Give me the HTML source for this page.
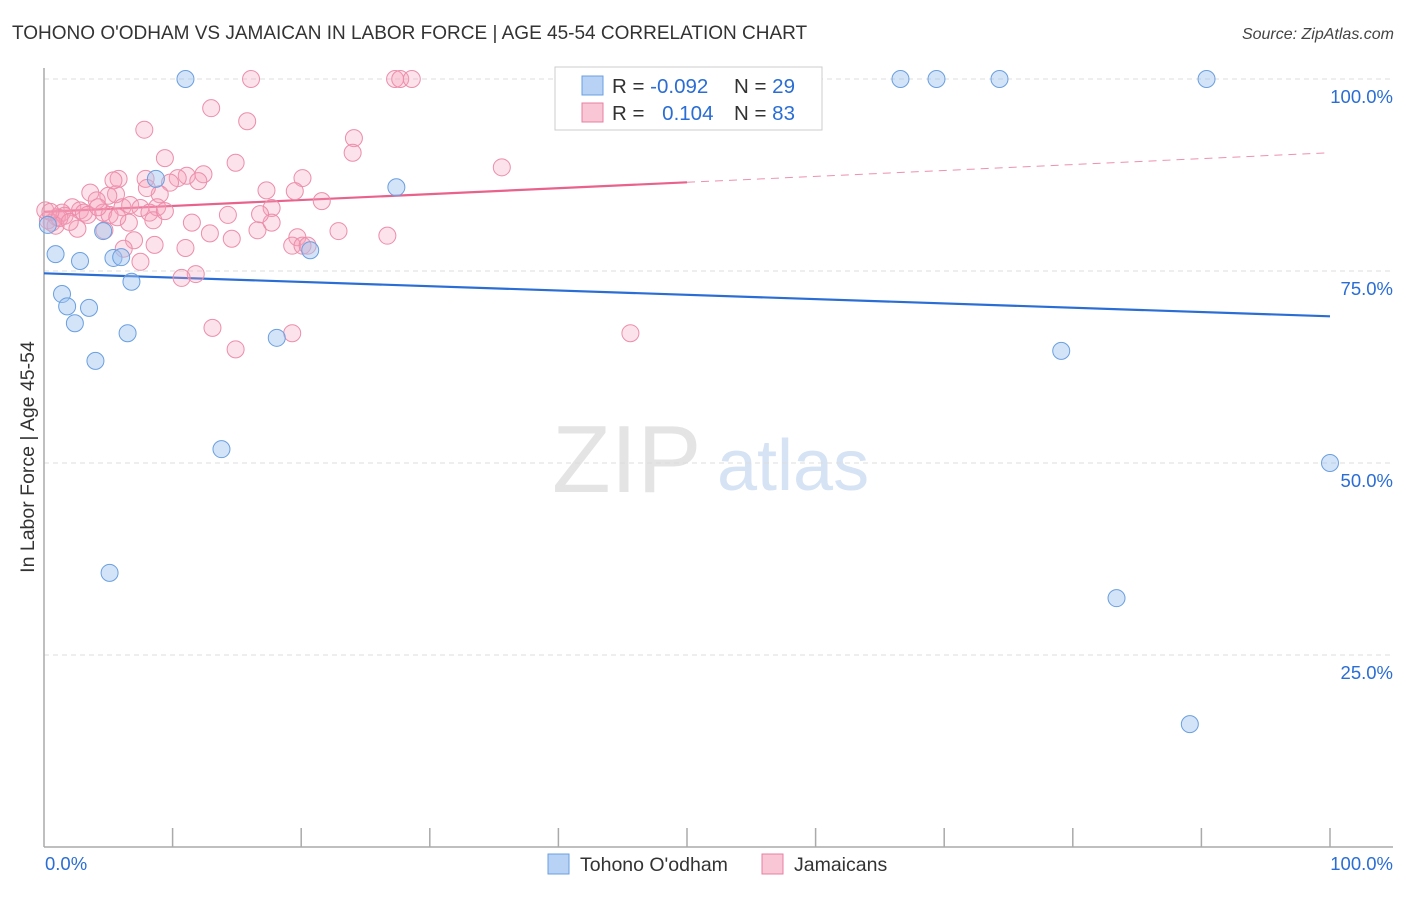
<!DOCTYPE html>
<html><head><meta charset="utf-8">
<style>
body{margin:0;background:#fff;font-family:"Liberation Sans",sans-serif;}
svg text{font-family:"Liberation Sans",sans-serif;}
</style></head>
<body>
<svg id="chart" width="1406" height="892" xmlns="http://www.w3.org/2000/svg">
<text x="12" y="39" font-size="19" fill="#333">TOHONO O'ODHAM VS JAMAICAN IN LABOR FORCE | AGE 45-54 CORRELATION CHART</text>
<text x="1394" y="39" font-size="16" fill="#444" font-style="italic" text-anchor="end">Source: ZipAtlas.com</text>
<g>
<text x="552" y="492" font-size="96" fill="#e4e4e4" font-family="Liberation Serif, serif">ZIP</text>
<text x="717" y="490" font-size="72" fill="#d6e3f4">atlas</text>
</g>
<g id="grid"></g>
<g id="axes"></g>
<g id="trend"></g>
<g id="points"></g>
<text transform="translate(34,457) rotate(-90)" font-size="19.5" fill="#333" text-anchor="middle">In Labor Force | Age 45-54</text>
<g>
<rect x="555" y="67" width="267" height="63" fill="#fff" stroke="#ccc"/>
<rect x="582" y="76" width="21" height="19" fill="#b7d2f5" stroke="#6a9fe0"/>
<rect x="582" y="103" width="21" height="19" fill="#f9c6d5" stroke="#e87fa0"/>
<text x="612" y="93" font-size="20.5" fill="#333">R = <tspan fill="#2a6dd4">-0.092</tspan></text>
<text x="734" y="93" font-size="20.5" fill="#333">N = <tspan fill="#2a6dd4">29</tspan></text>
<text x="612" y="120" font-size="20.5" fill="#333">R = <tspan fill="#2a6dd4" dx="12">0.104</tspan></text>
<text x="734" y="120" font-size="20.5" fill="#333">N = <tspan fill="#2a6dd4">83</tspan></text>
</g>
<g>
<rect x="548" y="854" width="21" height="20" fill="#b7d2f5" stroke="#6a9fe0"/>
<text x="580" y="871" font-size="19.5" fill="#333">Tohono O'odham</text>
<rect x="762" y="854" width="21" height="20" fill="#f9c6d5" stroke="#e87fa0"/>
<text x="794" y="871" font-size="19.5" fill="#333">Jamaicans</text>
</g>
</svg>
<script>
const yTicks=[25,50,75,100];
const yTickLabels=["25.0%","50.0%","75.0%","100.0%"];
const xTickCount=10;
const blueX=[11.0,47.7,66.6,69.4,74.3,90.4,27.4,8.7,0.9,2.8,4.6,5.4,6.0,6.8,1.4,1.8,3.5,2.4,6.5,4.0,18.1,20.7,13.8,5.1,79.1,100,83.4,89.1,0.3];
const blueY=[100,100,100,100,100,100,85.9,87.0,77.2,76.3,80.2,76.7,76.8,73.6,72.0,70.4,70.2,68.2,66.9,63.3,66.3,77.7,51.8,35.7,64.6,50.0,32.4,16.0,81.0];
const pinkX=[16.1,27.3,27.7,28.6,13.0,15.8,7.8,24.1,24.0,9.4,14.9,35.6,12.4,11.1,10.4,12.0,9.8,20.1,5.8,7.9,17.3,19.5,9.0,3.6,5.6,5.0,4.1,21.6,2.2,6.1,8.8,2.8,1.4,6.7,7.5,8.2,17.7,14.3,1.0,1.6,3.1,4.6,5.1,8.5,11.5,6.6,0.3,0.6,0.9,2.6,4.7,12.9,16.6,22.9,26.7,14.6,7.0,6.2,8.6,11.0,19.7,17.7,19.3,20.1,20.5,7.5,11.8,10.7,13.1,19.3,45.6,14.9,0.1,1.2,2.0,3.4,4.2,5.4,16.8,9.4,0.5,5.7,8.0];
const pinkY=[100,100,100,100,96.2,94.5,93.4,92.3,90.4,89.7,89.1,88.5,87.6,87.4,87.1,86.7,86.5,87.1,87.0,87.0,85.5,85.4,85.0,85.2,85.0,84.8,84.2,84.1,83.3,83.3,83.3,82.9,82.6,83.6,83.2,82.6,83.2,82.3,82.0,82.2,82.6,82.6,82.3,81.6,81.3,81.3,81.6,81.3,80.9,80.5,80.3,79.9,80.3,80.2,79.6,79.2,79.0,77.9,78.4,78.0,79.4,81.3,78.3,78.3,78.3,76.2,74.6,74.1,67.6,66.9,66.9,64.8,82.9,81.9,81.4,82.3,83.3,86.8,82.4,82.8,82.7,82.0,85.8];
const blueTrend=[74.7,69.1];
const pinkTrend=[82.7,90.4];
const pinkSolidEnd=50;
const NS="http://www.w3.org/2000/svg";
const X0=44,X1=1330,Y0=847,Y100=79;
const sx=v=>X0+(X1-X0)*v/100;
const sy=v=>Y0-(Y0-Y100)*v/100;
function mk(tag,attrs,parent){const e=document.createElementNS(NS,tag);for(const k in attrs)e.setAttribute(k,attrs[k]);parent.appendChild(e);return e;}
const grid=document.getElementById('grid'),axes=document.getElementById('axes');
yTicks.forEach((t,i)=>{
  const l=mk('line',{x1:X0,x2:1393,y1:sy(t),y2:sy(t),stroke:'#ddd','stroke-dasharray':'5,4'},grid);
  
  
  const tx=mk('text',{x:1393,y:sy(t)+24,'font-size':18.5,fill:'#2a6dd4','text-anchor':'end'},grid);
  tx.textContent=yTickLabels[i];
  
  
});
const ya=mk('line',{x1:X0,x2:X0,y1:68,y2:Y0,stroke:'#aaa','stroke-width':1.5},axes);


const xa=mk('line',{x1:X0,x2:1393,y1:Y0,y2:Y0,stroke:'#aaa','stroke-width':1.5},axes);


for(let i=1;i<=xTickCount;i++){
  const t=mk('line',{x1:sx(i*10),x2:sx(i*10),y1:828,y2:Y0,stroke:'#aaa','stroke-width':1.5},axes);
  
  
}
const xl0=mk('text',{x:45,y:870,'font-size':18.5,fill:'#2a6dd4'},axes);xl0.textContent='0.0%';


const xl1=mk('text',{x:1393,y:870,'font-size':18.5,fill:'#2a6dd4','text-anchor':'end'},axes);xl1.textContent='100.0%';


const pts=document.getElementById('points');
pinkX.forEach((x,i)=>{
  const c=mk('circle',{cx:sx(x),cy:sy(pinkY[i]),r:8.5,fill:'rgba(244,160,185,0.3)',stroke:'#ec8eab','stroke-width':1},pts);
  
  
});
blueX.forEach((x,i)=>{
  const c=mk('circle',{cx:sx(x),cy:sy(blueY[i]),r:8.5,fill:'rgba(160,195,240,0.45)',stroke:'#6a9fe0','stroke-width':1},pts);
  
  
});
const tr=document.getElementById('trend');
const pAt=v=>pinkTrend[0]+(pinkTrend[1]-pinkTrend[0])*v/100;
const bl=mk('line',{x1:sx(0),y1:sy(blueTrend[0]),x2:sx(100),y2:sy(blueTrend[1]),stroke:'#2a6dd4','stroke-width':2.2},tr);


const pl=mk('line',{x1:sx(0),y1:sy(pAt(0)),x2:sx(pinkSolidEnd),y2:sy(pAt(pinkSolidEnd)),stroke:'#e8628c','stroke-width':2.2},tr);


const pd=mk('line',{x1:sx(pinkSolidEnd),y1:sy(pAt(pinkSolidEnd)),x2:sx(100),y2:sy(pAt(100)),stroke:'#e8628c','stroke-width':1,'stroke-dasharray':'8,6',opacity:0.7},tr);


</script>
</body></html>
